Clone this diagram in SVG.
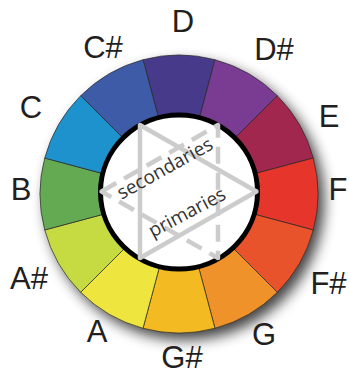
<svg xmlns="http://www.w3.org/2000/svg" width="349" height="375" viewBox="0 0 349 375">
<defs>
<filter id="sh" x="-30%" y="-30%" width="160%" height="160%">
<feGaussianBlur stdDeviation="7"/>
</filter>
</defs>
<style>
.seg{stroke:#2a2a2a;stroke-width:0.7}
.lbl{font-family:"Liberation Sans",Arial,sans-serif;font-size:31px;fill:#231f20;text-anchor:middle}
.in{font-family:"Open Sans","Liberation Sans",sans-serif;font-size:19px;fill:#333333;text-anchor:middle}
.tri{fill:none;stroke:#cccccc;stroke-width:4.5;stroke-linejoin:round}
.dash{stroke-dasharray:17 9}
</style>
<rect width="349" height="375" fill="#ffffff"/>
<circle cx="185" cy="201" r="139" fill="#000000" opacity="0.75" filter="url(#sh)"/>
<g id="D"><path class="seg" fill="#473a8a" d="M179,194 L143.02,59.74 A139,139 0 0 1 214.98,59.74 Z"/><text class="lbl" x="183" y="32">D</text></g>
<g id="Dsharp"><path class="seg" fill="#7a3b93" d="M179,194 L214.98,59.74 A139,139 0 0 1 277.29,95.71 Z"/><text class="lbl" x="274" y="60">D#</text></g>
<g id="E"><path class="seg" fill="#a2274f" d="M179,194 L277.29,95.71 A139,139 0 0 1 313.26,158.02 Z"/><text class="lbl" x="329" y="127">E</text></g>
<g id="F"><path class="seg" fill="#e6352b" d="M179,194 L313.26,158.02 A139,139 0 0 1 313.26,229.98 Z"/><text class="lbl" x="338" y="200">F</text></g>
<g id="Fsharp"><path class="seg" fill="#e8532c" d="M179,194 L313.26,229.98 A139,139 0 0 1 277.29,292.29 Z"/><text class="lbl" x="328.5" y="294">F#</text></g>
<g id="G"><path class="seg" fill="#ef922a" d="M179,194 L277.29,292.29 A139,139 0 0 1 214.98,328.26 Z"/><text class="lbl" x="264" y="345">G</text></g>
<g id="Gsharp"><path class="seg" fill="#f3ba22" d="M179,194 L214.98,328.26 A139,139 0 0 1 143.02,328.26 Z"/><text class="lbl" x="182" y="368">G#</text></g>
<g id="A"><path class="seg" fill="#eee53f" d="M179,194 L143.02,328.26 A139,139 0 0 1 80.71,292.29 Z"/><text class="lbl" x="97" y="342">A</text></g>
<g id="Asharp"><path class="seg" fill="#c6da42" d="M179,194 L80.71,292.29 A139,139 0 0 1 44.74,229.98 Z"/><text class="lbl" x="29" y="289">A#</text></g>
<g id="B"><path class="seg" fill="#63aa53" d="M179,194 L44.74,229.98 A139,139 0 0 1 44.74,158.02 Z"/><text class="lbl" x="21" y="200">B</text></g>
<g id="C"><path class="seg" fill="#1e92cc" d="M179,194 L44.74,158.02 A139,139 0 0 1 80.71,95.71 Z"/><text class="lbl" x="31" y="118">C</text></g>
<g id="Csharp"><path class="seg" fill="#3d5ba6" d="M179,194 L80.71,95.71 A139,139 0 0 1 143.02,59.74 Z"/><text class="lbl" x="103" y="58">C#</text></g>
<g id="center">
<ellipse cx="179" cy="192" rx="78.5" ry="77" fill="#ffffff" stroke="#000000" stroke-width="5"/>
</g>
<g id="connectors">
<polygon class="tri" points="256.5,191.5 140,125 140,258"/>
<polygon class="tri dash" points="101.5,191.5 218,125 218,258"/>
</g>
<g id="labels">
<text class="in" x="168" y="174" transform="rotate(-29 168 174)">secondaries</text>
<text class="in" x="190" y="218" transform="rotate(-28 190 218)">primaries</text>
</g>
</svg>
